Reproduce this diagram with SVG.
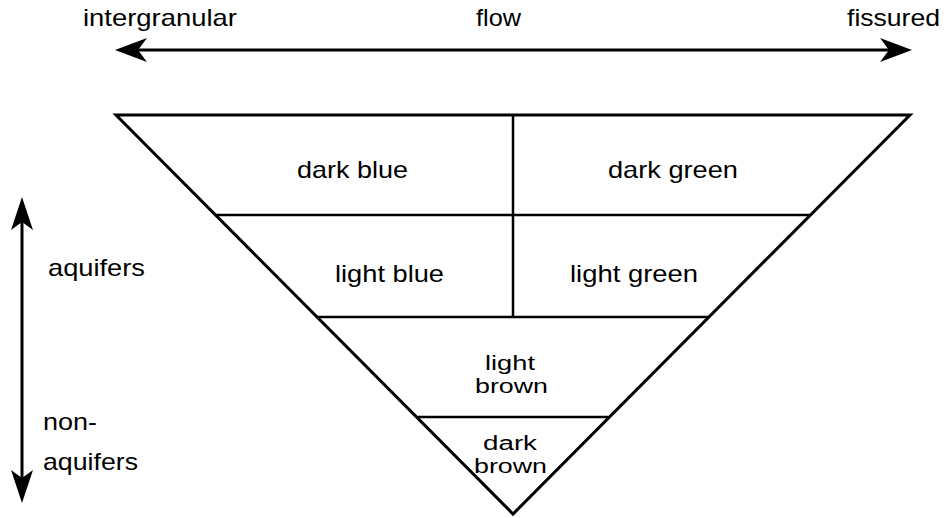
<svg xmlns="http://www.w3.org/2000/svg" width="952" height="518" viewBox="0 0 952 518">
<style>
text{font-family:"Liberation Sans",Arial,sans-serif;font-size:24px;fill:#000}
text.st{font-size:20px}
.ln{stroke:#000;stroke-width:3;fill:none;stroke-linecap:square}
.in{stroke:#000;stroke-width:2.5;fill:none}
.ah{fill:#000;stroke:none}
</style>
<rect width="952" height="518" fill="#fff"/>
<g id="connectors">
<line class="ln" x1="132" y1="50" x2="896" y2="50"/>
<path class="ah" d="M115,50 L147,38 L138,50 L147,62 Z"/>
<path class="ah" d="M912,50 L880,38 L889,50 L880,62 Z"/>
<line class="ln" x1="22" y1="215" x2="22" y2="485"/>
<path class="ah" d="M22,197 L11,230 L22,222 L33,230 Z"/>
<path class="ah" d="M22,503 L11,470 L22,478 L33,470 Z"/>
</g>
<g id="labels">
<text x="83" y="26" textLength="154" lengthAdjust="spacingAndGlyphs">intergranular</text>
<text x="476" y="26" textLength="45" lengthAdjust="spacingAndGlyphs">flow</text>
<text x="847" y="26" textLength="93" lengthAdjust="spacingAndGlyphs">fissured</text>
<text x="48" y="276" textLength="97" lengthAdjust="spacingAndGlyphs">aquifers</text>
<text x="43" y="430" textLength="54" lengthAdjust="spacingAndGlyphs">non-</text>
<text x="43" y="470" textLength="95" lengthAdjust="spacingAndGlyphs">aquifers</text>
</g>
<g id="triangle">
<path class="ln" d="M116,115 L910,115 L513,514 Z" stroke-linejoin="miter"/>
<line class="in" x1="216" y1="215" x2="810" y2="215"/>
<line class="in" x1="318" y1="317" x2="708" y2="317"/>
<line class="in" x1="418" y1="417" x2="608" y2="417"/>
<line class="in" x1="513" y1="115" x2="513" y2="317"/>
</g>
<g id="dark-blue"><text x="297" y="178" textLength="111" lengthAdjust="spacingAndGlyphs">dark blue</text></g>
<g id="dark-green"><text x="608" y="178" textLength="130" lengthAdjust="spacingAndGlyphs">dark green</text></g>
<g id="light-blue"><text x="335" y="282" textLength="109" lengthAdjust="spacingAndGlyphs">light blue</text></g>
<g id="light-green"><text x="570" y="282" textLength="128" lengthAdjust="spacingAndGlyphs">light green</text></g>
<g id="light-brown"><text class="st" x="485" y="370" textLength="50" lengthAdjust="spacingAndGlyphs">light</text><text class="st" x="475" y="393" textLength="73" lengthAdjust="spacingAndGlyphs">brown</text></g>
<g id="dark-brown"><text class="st" x="483" y="450" textLength="54" lengthAdjust="spacingAndGlyphs">dark</text><text class="st" x="474" y="473" textLength="73" lengthAdjust="spacingAndGlyphs">brown</text></g>
</svg>
